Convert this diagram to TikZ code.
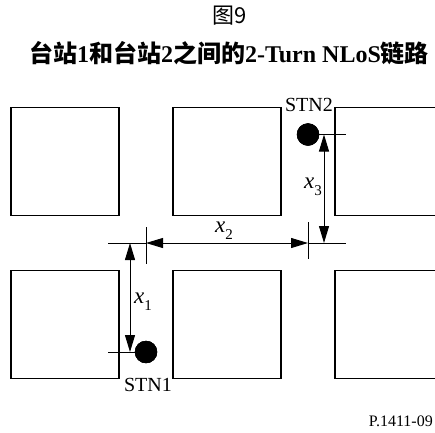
\documentclass[tikz,border=0pt]{standalone}
\usepackage{fontspec}
\setmainfont{Liberation Serif}
\newfontfamily\cjk{Noto Sans CJK SC}
\usetikzlibrary{arrows.meta}
\newcommand\xsub[2]{\textit{#1}\raisebox{-0.3em}{\fontsize{15}{17}\selectfont #2}}
\tikzset{
  blk/.style={draw, line width=1.4pt, minimum width=108pt, minimum height=108.5pt, inner sep=0pt, outer sep=0pt},
  dot/.style={circle, fill=black, draw=black, minimum size=22pt, inner sep=0pt, outer sep=0pt},
  dim/.style={line width=1pt},
  darr/.style={line width=1pt, {Triangle[length=17pt,width=10pt]}-{Triangle[length=17pt,width=10pt]}},
  lbl/.style={font=\fontsize{20}{23}\selectfont, inner sep=0pt},
  xl/.style={font=\fontsize{23}{26}\selectfont, inner sep=0pt},
}
\begin{document}
\begin{tikzpicture}[x=1pt,y=-1pt]
\useasboundingbox (0,0) rectangle (435,432);
\clip (0,0) rectangle (435,432);
% titles
\node[font=\fontsize{22}{25}\selectfont\cjk, inner sep=0pt] (fig) at (230,16) {图9};
\node[font=\fontsize{24}{28}\selectfont\bfseries, inner sep=0pt] (title) at (229,53)
  {{\cjk 台站}1{\cjk 和台站}2{\cjk 之间的}2-Turn NLoS{\cjk 链路}};
% buildings
\node[blk] (A1) at (65,161.5) {};
\node[blk] (A2) at (227,161.5) {};
\node[blk] (A3) at (389,161.5) {};
\node[blk] (B1) at (65,324.5) {};
\node[blk] (B2) at (227,324.5) {};
\node[blk] (B3) at (389,324.5) {};
% stations
\node[dot] (s2) at (308,134.5) {};
\node[dot] (s1) at (146,352) {};
\node[lbl, anchor=base] (l2) at (309,111.5) {STN2};
\node[lbl, anchor=base] (l1) at (148,391.5) {STN1};
% dimension coordinates
\coordinate (r2) at (346,134.5);
\coordinate (l1e) at (108,352);
\coordinate (hL) at (108,243);
\coordinate (tL) at (146,243);
\coordinate (tR) at (308,243);
\coordinate (hR) at (346,243);
\coordinate (tLa) at (146,227);
\coordinate (tLb) at (146,264);
\coordinate (tRa) at (308,222);
\coordinate (tRb) at (308,259);
\coordinate (x3a) at (324,134.5);
\coordinate (x3b) at (324,243);
\coordinate (x1a) at (130,243);
\coordinate (x1b) at (130,352);
% extension lines
\draw[dim] (s2.center) -- (r2);
\draw[dim] (l1e) -- (s1.center);
\draw[dim] (hL) -- (tL);
\draw[dim] (tR) -- (hR);
\draw[dim] (tLa) -- (tLb);
\draw[dim] (tRa) -- (tRb);
% dimension arrows
\draw[darr] (tL) -- (tR);
\draw[darr] (x3a) -- (x3b);
\draw[darr] (x1a) -- (x1b);
\node[dot] at (s2) {};
\node[dot] at (s1) {};
% labels
\node[xl] (lx2) at (224,231) {\xsub{x}{2}};
\node[xl] (lx3) at (313,187) {\xsub{x}{3}};
\node[xl] (lx1) at (143,302) {\xsub{x}{1}};
\node[font=\fontsize{16}{19}\selectfont, inner sep=0pt, anchor=base east] (ref) at (433,426.5) {P.1411-09};
\end{tikzpicture}
\end{document}
